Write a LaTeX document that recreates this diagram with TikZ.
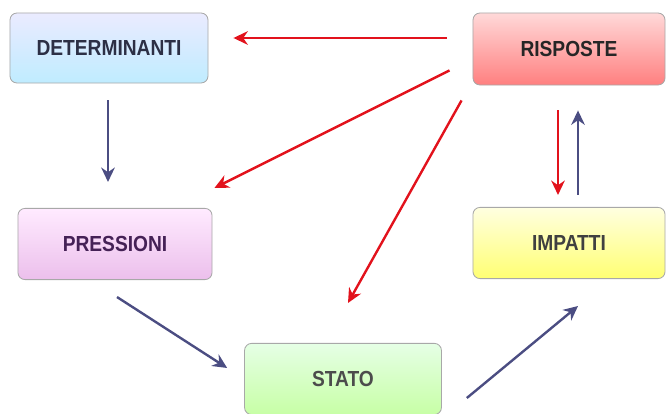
\documentclass[tikz,border=0pt]{standalone}
\usepackage{fontspec}
\setmainfont{Liberation Sans}
\newfontfamily\boxfont[FakeStretch=0.88]{Liberation Sans}
\usetikzlibrary{arrows.meta, calc}

\definecolor{arrowred}{HTML}{E2121C}
\definecolor{arrowblue}{HTML}{4B4D82}
\definecolor{boxline}{HTML}{A8A8A8}
\definecolor{boxtext}{HTML}{2C2F45}

\begin{document}
\begin{tikzpicture}[
    x=0.025cm, y=-0.025cm,
    box/.style={draw=boxline, line width=0.6pt, rounded corners=5pt, minimum width=4.85cm, minimum height=1.78cm,
        align=center, text=boxtext, font=\boxfont\fontsize{15.5}{17}\selectfont\bfseries},
    redarrow/.style={-{Stealth[length=3.6mm, width=3.4mm]}, arrowred, line width=1.7pt},
    bluearrow/.style={-{Stealth[length=3.6mm, width=3.4mm]}, arrowblue, line width=1.7pt}
]
    \useasboundingbox (0,0) rectangle (666,414);

    % The five DPSIR boxes
    \node[box, top color=blue!8, bottom color=blue!30!cyan!25, minimum width=4.95cm, minimum height=1.75cm] (det) at (109,48) {DETERMINANTI};
    \node[box, top color=red!15, bottom color=red!50, minimum width=4.8cm, minimum height=1.8cm, text=black!85] (ris) at (569,49) {RISPOSTE};
    \node[box, top color=magenta!8, bottom color=magenta!40!violet!25, text=violet!30!boxtext] (pre) at (115,244) {PRESSIONI};
    \node[box, top color=yellow!12, bottom color=yellow!55, minimum width=4.8cm, text=black!75] (imp) at (569,243) {IMPATTI};
    \node[box, top color=green!10, bottom color=green!50!lime!35, minimum width=4.92cm, text=black!70] (sta) at (343,379) {STATO};

    % Chain of causes
    \draw[bluearrow] ($(det.south)+(-1,17)$) -- ($(pre.north)+(-7,-26)$);
    \draw[bluearrow] ($(pre.south)+(2,17)$) -- ($(sta.west)+(-17,-11)$);
    \draw[bluearrow] ($(sta.east)+(25,19)$) -- ($(imp.south)+(9,27)$);
    \draw[bluearrow] ($(imp.north)+(9,-12)$) -- ($(ris.south)+(9,25)$);

    % Responses acting back
    \draw[redarrow] ($(ris.west)+(-26,-11)$) -- ($(det.east)+(25,-10)$);
    \draw[redarrow] ($(ris.south west)+(-23,-15)$) -- ($(pre.north east)+(2,-20)$);
    \draw[redarrow] ($(ris.south west)+(-11,15)$) -- ($(sta.north)+(5,-40)$);
    \draw[redarrow] ($(ris.south)+(-11,25)$) -- ($(imp.north)+(-11,-12)$);

\end{tikzpicture}
\end{document}
